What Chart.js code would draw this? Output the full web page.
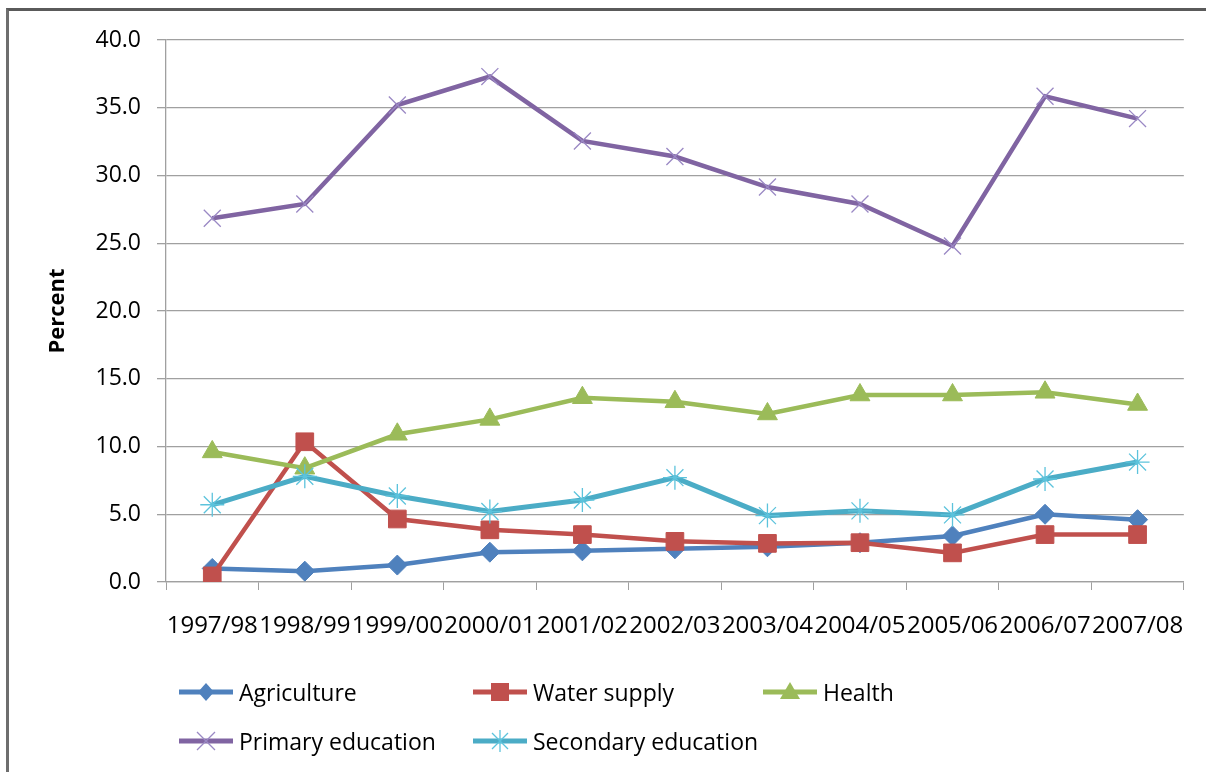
<!DOCTYPE html>
<html>
<head>
<meta charset="utf-8">
<script src="https://cdn.jsdelivr.net/npm/chart.js@4/dist/chart.umd.min.js"></script>
<style>
  html, body { margin: 0; padding: 0; background: #fff; overflow: hidden; }
  body { width: 1206px; height: 772px; position: relative; overflow: hidden; font-family: "Open Sans", sans-serif; }
  #frame { position: absolute; left: 6px; top: 8px; width: 1200px; height: 764px; border-left: 3px solid #6e6e6e; border-top: 3px solid #5a5a5a; box-sizing: border-box; }
  #wrap { position: absolute; left: 0; top: 0; width: 1206px; height: 772px; }
  .lg { position: absolute; height: 30px; display: flex; align-items: center; font-size: 23px; color: #000; white-space: nowrap; }
  .lg svg { margin-right: 6px; }
</style>
</head>
<body>
<div id="frame"></div>
<div id="wrap"><canvas id="c" width="1206" height="772"></canvas></div>
<div id="legend"></div>
<script>
const categories = ["1997/98","1998/99","1999/00","2000/01","2001/02","2002/03","2003/04","2004/05","2005/06","2006/07","2007/08"];
const seriesNames = ["Agriculture","Water supply","Health","Primary education","Secondary education"];
const agriculture = [1.0, 0.8, 1.25, 2.2, 2.3, 2.45, 2.6, 2.9, 3.4, 5.0, 4.6];
const waterSupply = [0.45, 10.35, 4.65, 3.85, 3.5, 3.0, 2.85, 2.9, 2.15, 3.5, 3.5];
const health = [9.6, 8.4, 10.9, 12.0, 13.6, 13.3, 12.4, 13.8, 13.8, 14.0, 13.1];
const primaryEducation = [26.85, 27.9, 35.2, 37.3, 32.55, 31.4, 29.15, 27.9, 24.8, 35.85, 34.2];
const secondaryEducation = [5.7, 7.8, 6.35, 5.2, 6.05, 7.7, 4.9, 5.25, 4.95, 7.6, 8.85];
const yTicks = [0, 5, 10, 15, 20, 25, 30, 35, 40];

const colors = ["#4F81BD", "#C0504D", "#9BBB59", "#8064A2", "#4BACC6"];
const styles = [
  { pointStyle: "rectRot", radius: 10, pbw: 1, pcol: colors[0], pfill: colors[0] },
  { pointStyle: "rect", radius: 12.5, pbw: 1, pcol: colors[1], pfill: colors[1] },
  { pointStyle: "triangle", radius: 11.5, pbw: 1, pcol: colors[2], pfill: colors[2] },
  { pointStyle: "crossRot", radius: 12, pbw: 1.3, pcol: "#9a88c4", pfill: "#9a88c4" },
  { pointStyle: "star", radius: 12, pbw: 1.3, pcol: "#5cc3dc", pfill: "#5cc3dc" }
];
const dataArrays = [agriculture, waterSupply, health, primaryEducation, secondaryEducation];

const datasets = dataArrays.map((d, i) => ({
  label: seriesNames[i],
  data: d,
  borderColor: colors[i],
  backgroundColor: colors[i],
  borderWidth: i === 4 ? 5 : 4.5,
  pointStyle: styles[i].pointStyle,
  pointRadius: styles[i].radius,
  pointBorderWidth: styles[i].pbw,
  pointBorderColor: styles[i].pcol,
  pointBackgroundColor: styles[i].pfill,
  tension: 0,
  order: 5 - i
}));

const gridCol = "#a0a0a0";
new Chart(document.getElementById("c"), {
  type: "line",
  data: { labels: categories, datasets },
  options: {
    responsive: false,
    animation: false,
    layout: { padding: { top: 40, right: 19, left: 0, bottom: 0 } },
    plugins: { legend: { display: false }, tooltip: { enabled: false } },
    scales: {
      x: {
        offset: true,
        grid: { display: true, drawOnChartArea: false, drawTicks: true, tickLength: 8, color: gridCol, offset: true },
        border: { display: true, color: gridCol, width: 1.3 },
        ticks: { autoSkip: false, maxRotation: 0, minRotation: 0, color: "#000", padding: 22,
                 font: { family: "Open Sans", size: 24 } },
        afterFit: (s) => { s.height = 190; }
      },
      y: {
        min: 0, max: 40,
        afterBuildTicks: (s) => { s.ticks = yTicks.map(v => ({ value: v })); },
        grid: { color: gridCol, lineWidth: 1.3, tickLength: 9, drawTicks: true },
        border: { display: true, color: gridCol, width: 1.3 },
        ticks: { color: "#000", padding: 16, font: { family: "Open Sans", size: 23 },
                 callback: (v) => Number(v).toFixed(1) },
        title: { display: true, text: "Percent", color: "#000", padding: { top: 45, bottom: 0 },
                 font: { family: "Open Sans", size: 22, weight: "bold" } },
        afterFit: (s) => { s.width = 166; }
      }
    }
  }
});

// HTML legend
const legendPos = [
  { x: 179, y: 692 }, { x: 473, y: 692 }, { x: 763, y: 692 },
  { x: 179, y: 741 }, { x: 473, y: 741 }
];
function markerSvg(i) {
  const c = colors[i];
  const cx = 27, cy = 15;
  let m = "";
  if (i === 0) m = `<polygon points="${cx},${cy-9} ${cx+8},${cy} ${cx},${cy+9} ${cx-8},${cy}" fill="${c}"/>`;
  if (i === 1) m = `<rect x="${cx-9}" y="${cy-9}" width="18" height="18" fill="${c}"/>`;
  if (i === 2) m = `<polygon points="${cx},${cy-10} ${cx+10},${cy+7} ${cx-10},${cy+7}" fill="${c}"/>`;
  if (i === 3) m = `<path d="M${cx-9} ${cy-9} L${cx+9} ${cy+9} M${cx+9} ${cy-9} L${cx-9} ${cy+9}" stroke="#9a88c4" stroke-width="1.3"/>`;
  if (i === 4) m = `<path d="M${cx-8} ${cy-8} L${cx+8} ${cy+8} M${cx+8} ${cy-8} L${cx-8} ${cy+8} M${cx} ${cy-11} L${cx} ${cy+11}" stroke="#5cc3dc" stroke-width="1.3"/>`;
  return `<svg width="54" height="30" viewBox="0 0 54 30"><line x1="0" y1="15" x2="54" y2="15" stroke="${c}" stroke-width="5"/>${m}</svg>`;
}
const lg = document.getElementById("legend");
seriesNames.forEach((n, i) => {
  const d = document.createElement("div");
  d.className = "lg";
  d.style.left = legendPos[i].x + "px";
  d.style.top = (legendPos[i].y - 15) + "px";
  d.innerHTML = markerSvg(i) + "<span>" + n + "</span>";
  lg.appendChild(d);
});
</script>
</body>
</html>
